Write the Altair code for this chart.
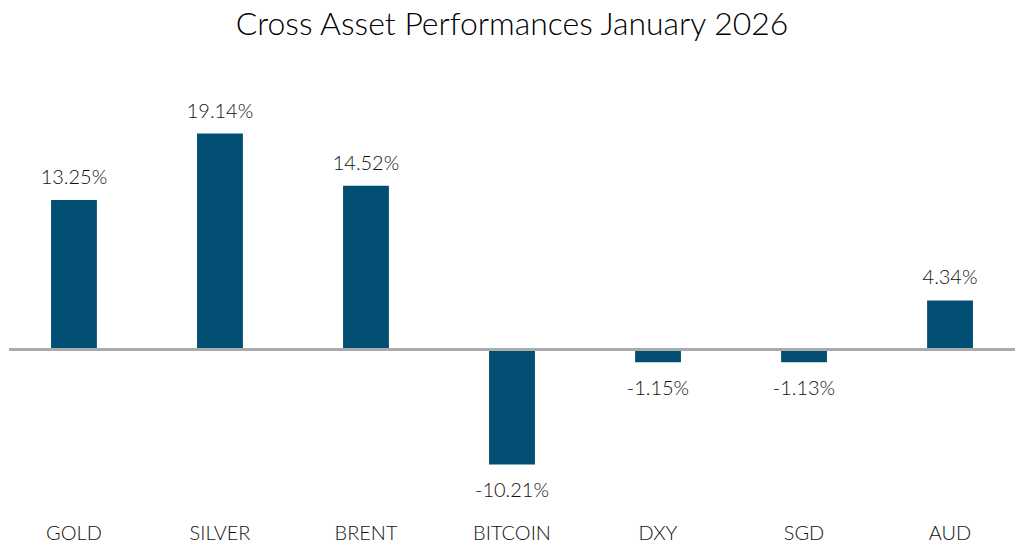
import altair as alt
import pandas as pd

categories = ["GOLD", "SILVER", "BRENT", "BITCOIN", "DXY", "SGD", "AUD"]
values = [13.25, 19.14, 14.52, -10.21, -1.15, -1.13, 4.34]
labels = ["13.25%", "19.14%", "14.52%", "-10.21%", "-1.15%", "-1.13%", "4.34%"]

df = pd.DataFrame({"asset": categories, "value": values, "label": labels})
df["base"] = 0.0

FONT = "Lato"
WEIGHT = 300
BAR = "#024F73"
YDOM = [-14.2, 21.2]

x = alt.X("asset:N", sort=categories,
          scale=alt.Scale(paddingInner=0.686, paddingOuter=0.288),
          axis=alt.Axis(title=None, domain=False, ticks=False,
                        labelAngle=0, labelFont=FONT, labelFontSize=20,
                        labelFontWeight=WEIGHT,
                        labelColor="#111111", labelPadding=14))
y = alt.Y("value:Q", scale=alt.Scale(domain=YDOM, nice=False), axis=None)

base = alt.Chart(df)

bars = base.mark_bar(color=BAR).encode(x=x, y=y, y2="base:Q")

zero = base.mark_rule(color="#ABABAB", strokeWidth=2).encode(
    y=alt.Y("base:Q", scale=alt.Scale(domain=YDOM, nice=False), axis=None))

pos_text = base.transform_filter("datum.value >= 0").mark_text(
    font=FONT, fontSize=20, fontWeight=WEIGHT, color="#111111",
    baseline="bottom", dy=-12
).encode(x=x, y=y, text="label:N")

neg_text = base.transform_filter("datum.value < 0").mark_text(
    font=FONT, fontSize=20, fontWeight=WEIGHT, color="#111111",
    baseline="top", dy=17
).encode(x=x, y=y, text="label:N")

chart = alt.layer(bars, zero, pos_text, neg_text).properties(
    width=1008, height=400,
    padding=0,
    title=alt.TitleParams("Cross Asset Performances January 2026", font=FONT,
                          fontSize=32, fontWeight=WEIGHT, color="#000000",
                          anchor="middle", baseline="top", offset=60),
).configure_view(stroke=None)

chart.save("out.html", embed_options={"renderer": "svg", "actions": False})
